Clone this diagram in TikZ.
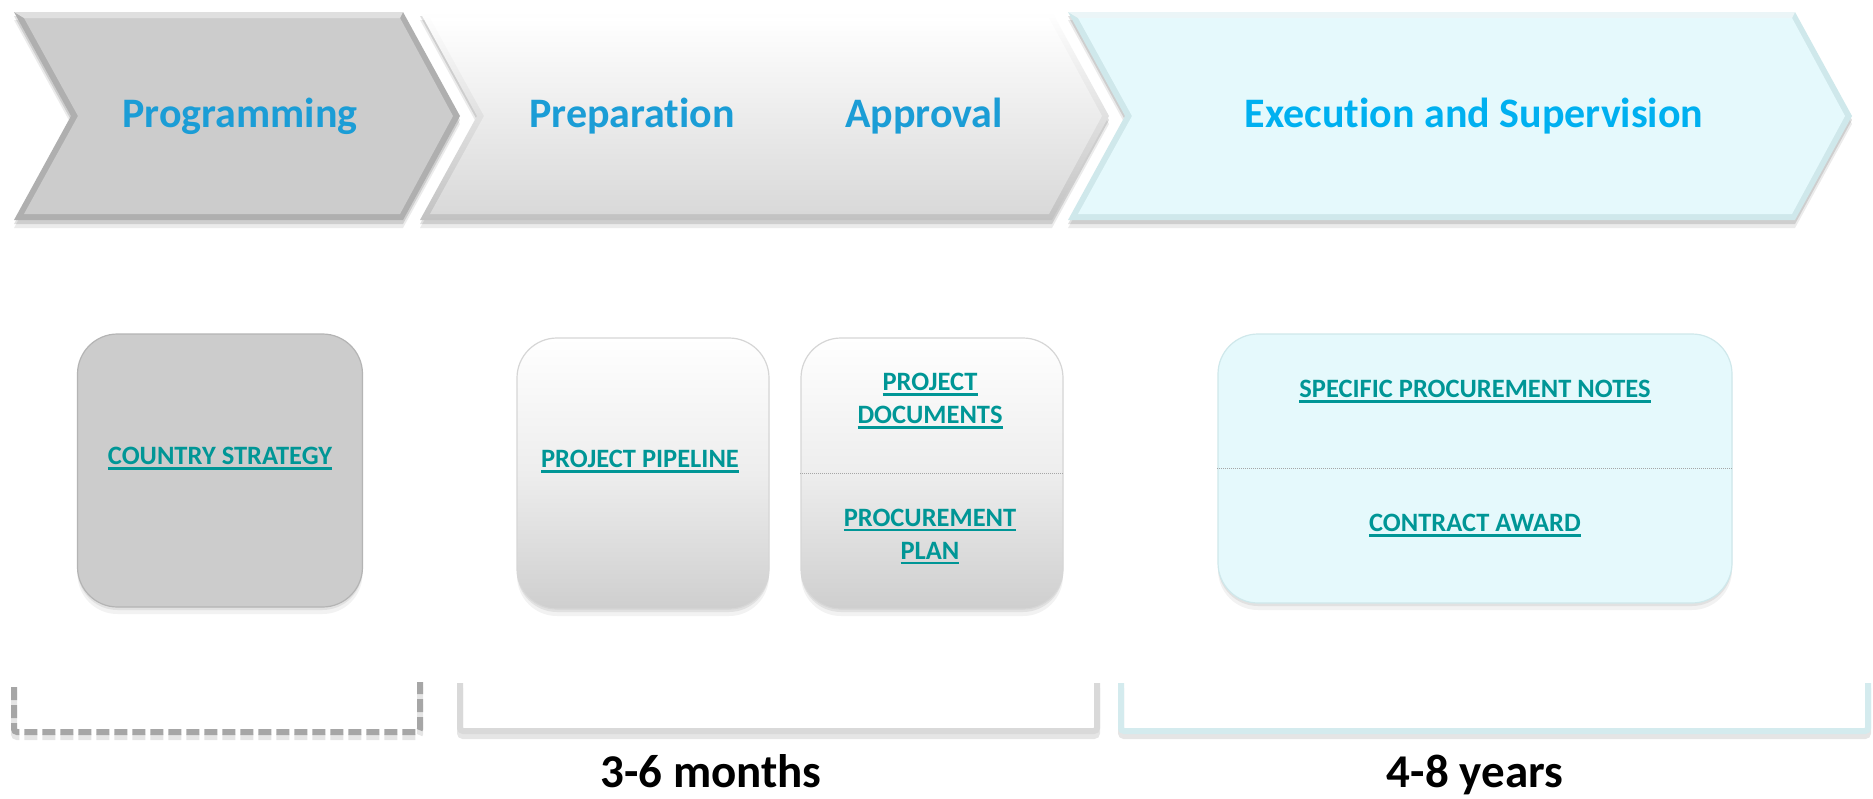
\documentclass[tikz,border=0pt]{standalone}
\usepackage{fontspec}
\setmainfont[Ligatures=NoCommon]{Carlito}
\usetikzlibrary{shadows}

\definecolor{headblue}{RGB}{27,157,214}
\definecolor{execblue}{RGB}{0,176,240}
\definecolor{linkteal}{RGB}{0,150,150}
\definecolor{stepgray}{RGB}{204,204,204}
\definecolor{paleaqua}{RGB}{229,249,252}
\definecolor{aquaedge}{RGB}{207,232,235}
\definecolor{braceaqua}{RGB}{212,235,238}

% underlined link text
\newsavebox{\ulinkbox}
\newcommand{\ulink}[1]{\sbox{\ulinkbox}{#1}\rlap{\usebox{\ulinkbox}}\rule[-5pt]{\wd\ulinkbox}{2.4pt}}

% chevron outline and its bevel inset
\newcommand{\chevshape}[3]{%
  \path[#3] (#1,12) -- (#2,12) -- ({#2+57},116) -- (#2,220) -- (#1,220) -- ({#1+57},116) -- cycle;}
\newcommand{\chevinner}[3]{%
  \path[#3] ({#1+10},18) -- ({#2-3},18) -- ({#2+50},116) -- ({#2-3},214) -- ({#1+10},214) -- ({#1+64},116) -- cycle;}
\newcommand{\chevtop}[3]{%
  \path[#3] (#1,12) -- (#2,12) -- ({#2-3},18) -- ({#1+10},18) -- cycle;}

\begin{document}
\begin{tikzpicture}[x=1pt,y=-1pt,
  phaselabel/.style={font=\fontsize{42}{50}\selectfont\bfseries,anchor=base,text=headblue},
  linklabel/.style={font=\fontsize{26.5}{33}\selectfont\bfseries,text=linkteal,align=center,inner sep=0pt},
  card/.style={rounded corners=40pt,minimum height=271pt,line width=1.2pt,
    drop shadow={shadow xshift=0pt,shadow yshift=-7pt,opacity=.10},
    drop shadow={shadow xshift=0pt,shadow yshift=-3pt,opacity=.14}},
  spanlabel/.style={font=\fontsize{47}{56}\selectfont\bfseries,anchor=base},
  bracket/.style={line width=6pt,rounded corners=3pt}]
\fill[white] (0,0) rectangle (1873,798);
\useasboundingbox (0,0) rectangle (1873,798);

% Phase arrows
\chevshape{14}{403}{fill=black,opacity=.08,yshift=-8pt}
\chevshape{420}{1052}{fill=black,opacity=.08,yshift=-8pt}
\chevshape{1068}{1795}{fill=black,opacity=.08,yshift=-8pt}
\chevshape{14}{403}{fill=black,opacity=.12,yshift=-4pt}
\chevshape{420}{1052}{fill=black,opacity=.12,yshift=-4pt}
\chevshape{1068}{1795}{fill=black,opacity=.12,yshift=-4pt}

\chevshape{14}{403}{fill=stepgray!86!black}
\chevinner{14}{403}{fill=stepgray}
\chevtop{14}{403}{fill=white,opacity=.6}

\chevshape{420}{1052}{top color=white,bottom color=black!24}
\chevinner{420}{1052}{top color=white,bottom color=black!15}
\chevtop{420}{1052}{fill=white,opacity=.6}

\chevshape{1068}{1795}{fill=aquaedge}
\chevinner{1068}{1795}{fill=paleaqua}
\chevtop{1068}{1795}{fill=white,opacity=.6}

\node[phaselabel] (prog) at (240,127) {Programming};
\node[phaselabel] (prep) at (632,127) {Preparation};
\node[phaselabel] (appr) at (924,127) {Approval};
\node[phaselabel,text=execblue] (exec) at (1474,127) {Execution and Supervision};

% Document cards
\node[card,draw=stepgray!88!black,fill=stepgray,minimum width=285pt,minimum height=273pt] (cs) at (220,470.5) {};
\node[card,draw=black!16,top color=white,bottom color=black!19,middle color=white!93!black,minimum width=252pt] (pp) at (643,473.5) {};
\node[card,draw=black!16,top color=white,bottom color=black!19,middle color=white!93!black,minimum width=262pt] (pd) at (932,473.5) {};
\node[card,draw=aquaedge,fill=paleaqua,minimum width=514pt,minimum height=269pt] (ex) at (1475,468.5) {};

\draw[densely dotted,black!35,line width=1pt] (pd.west) -- (pd.east);
\draw[densely dotted,black!35,line width=1pt] (ex.west) -- (ex.east);

\node[linklabel,anchor=base] (cstext) at (220,464.5) {\ulink{COUNTRY STRATEGY}};
\node[linklabel,anchor=base] (pptext) at (640,467.5) {\ulink{PROJECT PIPELINE}};
\node[linklabel,anchor=north] (pdtext) at (930,373) {\ulink{PROJECT}\\\ulink{DOCUMENTS}};
\node[linklabel,anchor=north] (pltext) at (930,508.5) {\ulink{PROCUREMENT}\\\ulink{PLAN}};
\node[linklabel,anchor=base] (sptext) at (1475,397.5) {\ulink{SPECIFIC PROCUREMENT NOTES}};
\node[linklabel,anchor=base] (catext) at (1475,531.5) {\ulink{CONTRACT AWARD}};

% Duration brackets
\draw[bracket,black,opacity=.10,dash pattern=on 13pt off 5pt,yshift=-5pt] (14,687) -- (14,732) -- (420,732) -- (420,682);
\draw[bracket,black!35,dash pattern=on 13pt off 5pt] (14,687) -- (14,732) -- (420,732) -- (420,682);
\draw[bracket,black,opacity=.10,yshift=-5pt] (460,683) -- (460,731) -- (1097,731) -- (1097,683);
\draw[bracket,black!15] (460,683) -- (460,731) -- (1097,731) -- (1097,683);
\draw[bracket,black,opacity=.10,yshift=-5pt] (1121,683) -- (1121,731) -- (1868,731) -- (1868,683);
\draw[bracket,braceaqua] (1121,683) -- (1121,731) -- (1868,731) -- (1868,683);

\node[spanlabel] (prepspan) at (711,787) {3-6 months};
\node[spanlabel] (execspan) at (1475,787) {4-8 years};
\end{tikzpicture}
\end{document}
